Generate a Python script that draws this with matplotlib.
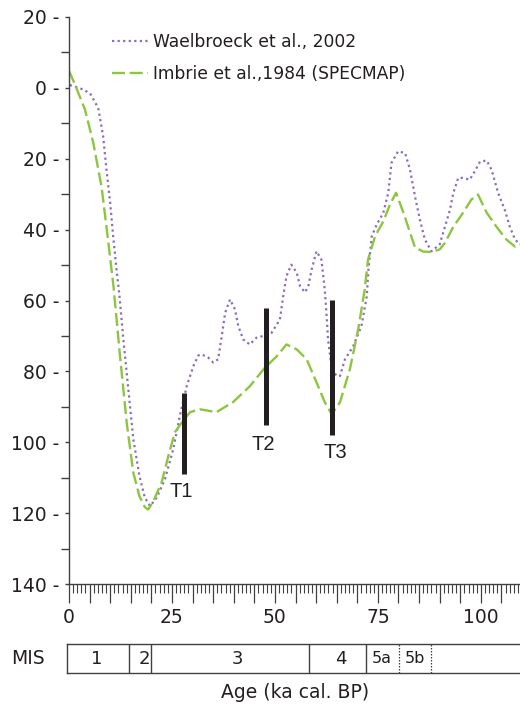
import matplotlib
matplotlib.use("Agg")
import matplotlib.pyplot as plt
from matplotlib.ticker import FixedLocator, FixedFormatter, MultipleLocator

plt.rcParams['font.family'] = ['DejaVu Sans']

# ---------------- data ----------------
imbrie_age = [0, 1.5, 3.9, 5.9, 7.9, 9.1, 10.8, 12.4, 14.0, 15.6, 17.1, 18.4, 19.2, 20.5,
              22.5, 24.1, 25.7, 27.4, 29.4, 31.8, 35.8, 39.8, 43.9, 47.6, 50.4, 52.8,
              55.3, 57.7, 60.1, 62.1, 63.8, 65.8, 68.2, 70.2, 71.8, 72.6, 74.3, 76.3,
              77.9, 79.4, 81.1, 82.8, 84.0, 86.0, 88.0, 90.0, 91.3, 93.3, 95.7, 97.7,
              99.3, 101.4, 103.8, 106.2, 108.3, 109.5]
imbrie_sl = [-4.8, -0.8, 6.2, 15.5, 27.9, 39.2, 56, 75.8, 94.4, 108.5, 115.2, 118.3, 119,
             116.6, 111.3, 104, 97.2, 94.4, 91.5, 90.7, 91.5, 88.7, 84.2, 78.9, 75.8, 72.4,
             73.8, 76.6, 83.1, 88.7, 92.1, 88.7, 79.4, 68.2, 56.9, 48.5, 41.9, 37.7,
             33, 29.6, 34.9, 40.8, 45, 46.2, 46.3, 45.6, 43.7, 39.2, 35.2, 31.5,
             30.1, 35.2, 39.2, 42.8, 44.8, 44.2]

wael_age = [0.2, 2.7, 5.1, 7.1, 8.3, 9.1, 10.0, 10.8, 11.7, 12.2, 13.2, 14.4, 15.6, 17.1,
            18.4, 19.7, 21.3, 23.3, 25.3, 26.9, 28.6, 30.2, 31.4, 32.2, 33.8, 35.0, 36.2,
            37.1, 37.9, 39.1, 40.3, 41.1, 42.3, 43.9, 45.5, 47.2, 49.2, 51.2, 52.0, 52.8,
            54.0, 55.3, 56.1, 57.3, 58.1, 58.9, 60.1, 61.3, 62.1, 62.5, 62.9, 63.8, 65.0,
            65.8, 67.0, 69.0, 71.0, 72.3, 72.7, 73.5, 74.7, 76.3, 77.5, 78.3, 79.9, 81.6,
            82.8, 84.0, 85.2, 86.4, 88.0, 90.0, 91.3, 92.5, 93.3, 94.5, 95.7, 97.3, 98.5,
            99.8, 101.4, 102.6, 104.2, 105.8, 107.0, 108.3, 109.5]
wael_sl = [-0.8, 0.1, 1.5, 5.7, 13.7, 23.1, 32.5, 42.8, 53.1, 58, 71, 85, 99, 109.5,
           115.6, 118, 115.6, 110.4, 102, 92.6, 84.1, 78.5, 75.5, 75.2, 76.1, 77.5, 76.6,
           70, 63.5, 59.7, 62.5, 67.2, 71, 72.4, 70.5, 70, 69.1, 65.4, 58.8, 53.1,
           49.9, 52.2, 56, 57.7, 56, 51.3, 46.1, 48.5, 57, 63.5, 71, 79.4, 81.3,
           81.3, 76.6, 72.9, 67.2, 58.8, 51.3, 41.9, 38.6, 35.3, 29.7, 21.2, 17.9, 18.4,
           23.1, 30.6, 37.2, 42.8, 46.1, 44.2, 39.1, 34.4, 29.7, 25.4, 25.4, 25.9, 23.6,
           20.8, 20.5, 23.1, 29.7, 34.4, 39.1, 42.8, 44.2]

legend_labels = ["Waelbroeck et al., 2002", "Imbrie et al.,1984 (SPECMAP)"]

# terminations
t_names = ["T1", "T2", "T3"]
t_age = [28.0, 47.8, 63.8]
t_top = [86.2, 62.1, 59.9]
t_bottom = [109.0, 95.1, 98.0]
t_label_age = [27.3, 47.1, 64.6]
t_label_y = [114.0, 100.6, 102.8]

# y ticks
y_major = [-20, 0, 20, 40, 60, 80, 100, 120, 140]
y_labels = ["20 -", "0 -", "20 -", "40 -", "60 -", "80 -", "100 -", "120 -", "140 -"]
x_label_ticks = [0, 25, 50, 75, 100]

# MIS stages
mis_solid = [14.6, 19.9, 58.3, 72.1]
mis_dotted = [80.1, 87.9]
mis_names = ["1", "2", "3", "4", "5a", "5b"]
mis_pos = [6.8, 18.2, 40.8, 66.0, 76.0, 84.0]

XMAX = 109.5
TXT = '#231f20'
PURPLE = '#8a6cc0'
GREEN = '#8cc63f'
AX = '#404040'

fig = plt.figure(figsize=(5.2, 7.12), dpi=100)
ax = fig.add_axes([69/520, 1-584/712, (520-69)/520, (584-17)/712])

l1, = ax.plot(wael_age, wael_sl, color=PURPLE, lw=1.6, linestyle=(0, (1.0, 1.5)),
              dash_capstyle='butt', label=legend_labels[0])
l2, = ax.plot(imbrie_age, imbrie_sl, color=GREEN, lw=1.7, linestyle=(0, (5.5, 2.0)),
              label=legend_labels[1])

for a, tp, bt in zip(t_age, t_top, t_bottom):
    ax.vlines(a, tp, bt, color=TXT, lw=3.6)
for n, a, yy in zip(t_names, t_label_age, t_label_y):
    ax.text(a, yy, n, ha='center', va='center', fontsize=14.5, color=TXT,
            family=['Liberation Sans', 'DejaVu Sans'])

ax.set_xlim(0, XMAX)
ax.set_ylim(140, -20)

for s in ['top', 'right']:
    ax.spines[s].set_visible(False)
for s in ['left', 'bottom']:
    ax.spines[s].set_color(AX)
    ax.spines[s].set_linewidth(1.0)

ax.yaxis.set_major_locator(FixedLocator(y_major))
ax.yaxis.set_major_formatter(FixedFormatter(y_labels))
ax.yaxis.set_minor_locator(MultipleLocator(10))
ax.tick_params(axis='y', which='major', length=3, width=1.0, color=AX,
               labelsize=13.5, labelcolor=TXT, pad=4)
ax.tick_params(axis='y', which='minor', length=6, width=1.0, color=AX)

ax.xaxis.set_major_locator(MultipleLocator(5))
ax.xaxis.set_major_formatter(plt.FuncFormatter(
    lambda v, p: f"{int(round(v))}" if int(round(v)) in x_label_ticks else ""))
ax.xaxis.set_minor_locator(MultipleLocator(1))
ax.tick_params(axis='x', which='major', length=13.5, width=0.9, color=AX,
               labelsize=13.5, labelcolor=TXT, pad=4)
ax.tick_params(axis='x', which='minor', length=6.5, width=0.8, color=AX)

leg = ax.legend(handles=[l1, l2], loc='upper left', bbox_to_anchor=(0.0953, 0.9716),
                frameon=False, fontsize=12.3, handlelength=2.1, handletextpad=0.33,
                labelspacing=0.84, borderpad=0, borderaxespad=0)
for t in leg.get_texts():
    t.set_color(TXT)

# MIS bar
mx = fig.add_axes([67/520, 1-673/712, (520-67)/520, (673-644)/712])
mx.set_xlim(-0.5, XMAX)
mx.set_ylim(0, 1)
mx.set_xticks([])
mx.set_yticks([])
mx.spines['right'].set_visible(False)
for s in ['left', 'top', 'bottom']:
    mx.spines[s].set_color(AX)
    mx.spines[s].set_linewidth(1.0)
for b in mis_solid:
    mx.axvline(b, color=AX, lw=1.0)
for b in mis_dotted:
    mx.axvline(b, color=AX, lw=0.9, linestyle=(0, (1.2, 1.2)))
for n, p in zip(mis_names, mis_pos):
    mx.text(p, 0.5, n, ha='center', va='center', fontsize=13 if len(n) == 1 else 11.5,
            color=TXT)

fig.text(28/520, 1-658/712, "MIS", ha='center', va='center', fontsize=13.5, color=TXT)
fig.text(295/520, 1-693/712, "Age (ka cal. BP)", ha='center', va='center',
         fontsize=13.5, color=TXT)

fig.savefig("out.png", dpi=100)
